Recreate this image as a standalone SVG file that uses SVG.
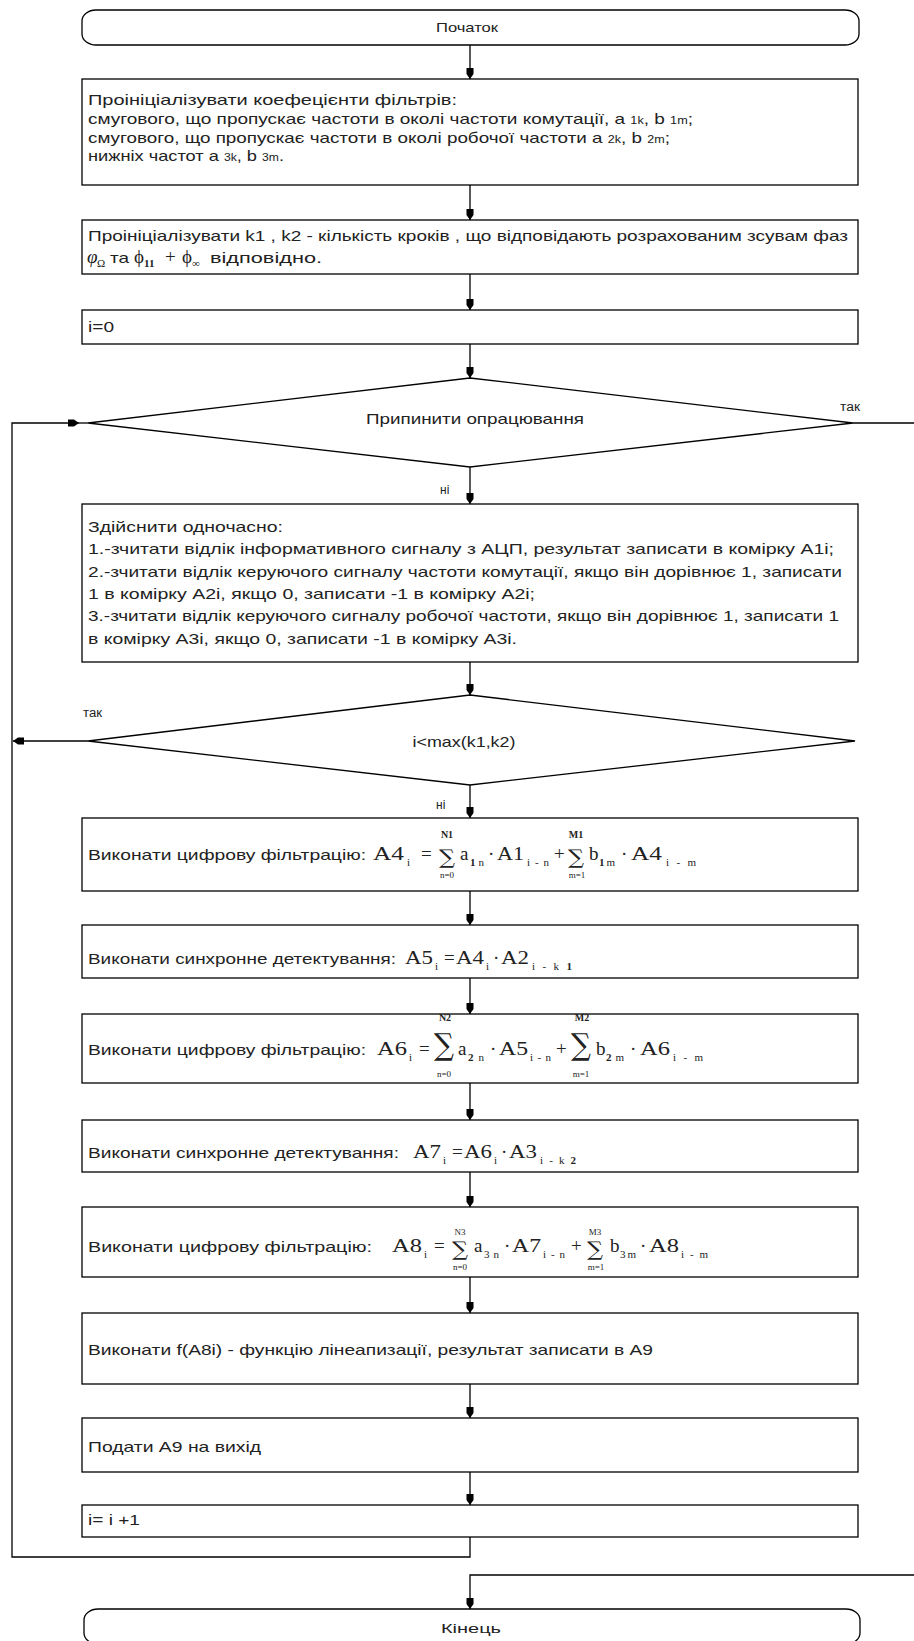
<svg xmlns="http://www.w3.org/2000/svg" width="914" height="1641" viewBox="0 0 914 1641">
<style>
.box{fill:#fff;stroke:#000;stroke-width:1.3}
.ln{fill:none;stroke:#000;stroke-width:1.3}
.t{font-family:"Liberation Sans",Arial,sans-serif;font-size:15px;fill:#222}
.tm{font-family:"Liberation Sans",Arial,sans-serif;font-size:13px;fill:#222;text-anchor:middle}
.lb{font-family:"Liberation Sans",Arial,sans-serif;font-size:12px;fill:#222}
.m{font-family:"Liberation Serif","DejaVu Serif",serif;font-size:19px;fill:#222}
.s{font-family:"Liberation Serif","DejaVu Serif",serif;font-size:11px;fill:#222}
.l{font-family:"Liberation Serif","DejaVu Serif",serif;font-size:9px;fill:#222;text-anchor:middle}
.lb2{font-weight:bold;font-size:10px}
.sg{font-family:"DejaVu Serif","Liberation Serif",serif;fill:#222}
.sm{font-size:10px}
</style>
<defs>
<marker id="ah" viewBox="0 0 11 8" refX="11" refY="4" markerWidth="11" markerHeight="8" orient="auto" markerUnits="userSpaceOnUse">
<path d="M0,0.5 L6,0.5 L11,4 L6,7.5 L0,7.5 Z" fill="#000"/>
</marker>
</defs>

<g id="connectors">
<path class="ln" d="M470,45 V79" marker-end="url(#ah)"/>
<path class="ln" d="M470,185 V220" marker-end="url(#ah)"/>
<path class="ln" d="M470,274 V310" marker-end="url(#ah)"/>
<path class="ln" d="M470,344 V378" marker-end="url(#ah)"/>
<path class="ln" d="M470,467 V504" marker-end="url(#ah)"/>
<path class="ln" d="M470,662 V695" marker-end="url(#ah)"/>
<path class="ln" d="M470,785 V818" marker-end="url(#ah)"/>
<path class="ln" d="M470,891 V925" marker-end="url(#ah)"/>
<path class="ln" d="M470,978 V1014" marker-end="url(#ah)"/>
<path class="ln" d="M470,1083 V1120" marker-end="url(#ah)"/>
<path class="ln" d="M470,1172 V1207" marker-end="url(#ah)"/>
<path class="ln" d="M470,1277 V1313" marker-end="url(#ah)"/>
<path class="ln" d="M470,1384 V1418" marker-end="url(#ah)"/>
<path class="ln" d="M470,1472 V1505" marker-end="url(#ah)"/>
<path class="ln" d="M470,1537 V1557 H12 V423 H79" marker-end="url(#ah)"/>
<path class="ln" d="M79,423 H88"/>
<path class="ln" d="M88,741 H13" marker-end="url(#ah)"/>
<path class="ln" d="M853,423 H918 V1575 H470 V1609" marker-end="url(#ah)"/>
<text class="lb" x="840" y="411" textLength="20" lengthAdjust="spacingAndGlyphs">так</text>
<text class="lb" x="440" y="494">ні</text>
<text class="lb" x="83" y="717" textLength="19" lengthAdjust="spacingAndGlyphs">так</text>
<text class="lb" x="436" y="809">ні</text>
</g>

<g id="start">
<rect class="box" x="82" y="10" width="777" height="35" rx="14" ry="11"/>
<text class="tm" x="467" y="32" textLength="62" lengthAdjust="spacingAndGlyphs">Початок</text>
</g>

<g id="init-coef">
<rect class="box" x="82" y="79" width="776" height="106"/>
<text class="t" x="88" y="105" textLength="369" lengthAdjust="spacingAndGlyphs">Проініціалізувати  коефецієнти фільтрів:</text>
<text class="t" x="88" y="124" textLength="605" lengthAdjust="spacingAndGlyphs">смугового, що пропускає частоти в околі частоти комутації, a <tspan class="sm">1k</tspan>, b <tspan class="sm">1m</tspan>;</text>
<text class="t" x="88" y="143" textLength="582" lengthAdjust="spacingAndGlyphs">смугового, що пропускає частоти в околі робочої частоти a <tspan class="sm">2k</tspan>, b <tspan class="sm">2m</tspan>;</text>
<text class="t" x="88" y="161" textLength="196" lengthAdjust="spacingAndGlyphs">нижніх частот a <tspan class="sm">3k</tspan>, b <tspan class="sm">3m</tspan>.</text>
</g>

<g id="init-k">
<rect class="box" x="82" y="220" width="776" height="54"/>
<text class="t" x="88" y="241" textLength="760" lengthAdjust="spacingAndGlyphs">Проініціалізувати k1 , k2 - кількість кроків , що відповідають розрахованим зсувам фаз</text>
<text class="m" x="87" y="263" font-style="italic">φ</text>
<text class="s" x="97" y="267" font-size="9">Ω</text>
<text class="t" x="110" y="263" textLength="19" lengthAdjust="spacingAndGlyphs">та</text>
<text class="m" x="134" y="263">ϕ</text>
<text class="s" x="144" y="267" font-weight="bold" font-size="12">11</text>
<text class="m" x="165" y="263">+</text>
<text class="m" x="182" y="263">ϕ</text>
<text class="s" x="192" y="267" font-size="8">∞</text>
<text class="t" x="210" y="263" textLength="112" lengthAdjust="spacingAndGlyphs">відповідно.</text>
</g>

<g id="init-i">
<rect class="box" x="82" y="310" width="776" height="34"/>
<text class="t" x="88" y="332" textLength="26" lengthAdjust="spacingAndGlyphs">i=0</text>
</g>

<g id="stop-decision">
<polygon class="box" points="470,378 853,423 470,467 88,423"/>
<text class="t" x="475" y="424" text-anchor="middle" textLength="218" lengthAdjust="spacingAndGlyphs">Припинити опрацювання</text>
</g>

<g id="read-signals">
<rect class="box" x="82" y="504" width="776" height="158"/>
<text class="t" x="88" y="532" textLength="195" lengthAdjust="spacingAndGlyphs">Здійснити одночасно:</text>
<text class="t" x="88" y="554" textLength="746" lengthAdjust="spacingAndGlyphs">1.-зчитати відлік інформативного сигналу з АЦП, результат записати в комірку A1i;</text>
<text class="t" x="88" y="577" textLength="754" lengthAdjust="spacingAndGlyphs">2.-зчитати відлік керуючого сигналу частоти комутації, якщо він дорівнює 1, записати</text>
<text class="t" x="88" y="599" textLength="447" lengthAdjust="spacingAndGlyphs">1 в комірку A2i, якщо 0, записати -1 в комірку A2i;</text>
<text class="t" x="88" y="621" textLength="751" lengthAdjust="spacingAndGlyphs">3.-зчитати відлік керуючого сигналу робочої частоти, якщо він дорівнює 1, записати 1</text>
<text class="t" x="88" y="644" textLength="429" lengthAdjust="spacingAndGlyphs">в комірку A3i, якщо 0, записати -1 в комірку A3i.</text>
</g>

<g id="max-decision">
<polygon class="box" points="470,695 855,741 470,785 88,741"/>
<text class="t" x="464" y="747" text-anchor="middle" textLength="103" lengthAdjust="spacingAndGlyphs">i&lt;max(k1,k2)</text>
</g>

<g id="filter1">
<rect class="box" x="82" y="818" width="776" height="73"/>
<text class="t" x="88" y="860" textLength="278" lengthAdjust="spacingAndGlyphs">Виконати цифрову  фільтрацію:</text>
<text class="m" x="373" y="860" textLength="31" lengthAdjust="spacingAndGlyphs">A4</text>
<text class="s" x="407" y="866">i</text>
<text class="m" x="421" y="860">=</text>
<text class="sg" x="439" y="864" font-size="20" textLength="16" lengthAdjust="spacingAndGlyphs">∑</text>
<text class="l lb2" x="447" y="838">N1</text>
<text class="l" x="447" y="878">n=0</text>
<text class="m" x="460" y="860">a</text>
<text class="s" x="470" y="866" textLength="14" lengthAdjust="spacing"><tspan font-weight="bold">1</tspan>n</text>
<text class="m" x="488" y="860">·</text>
<text class="m" x="497" y="860" textLength="27" lengthAdjust="spacingAndGlyphs">A1</text>
<text class="s" x="527" y="866" textLength="22" lengthAdjust="spacing">i-n</text>
<text class="m" x="554" y="860">+</text>
<text class="sg" x="568" y="864" font-size="20" textLength="16" lengthAdjust="spacingAndGlyphs">∑</text>
<text class="l lb2" x="576" y="838">M1</text>
<text class="l" x="577" y="878">m=1</text>
<text class="m" x="589" y="860">b</text>
<text class="s" x="599" y="866" textLength="16" lengthAdjust="spacing"><tspan font-weight="bold">1</tspan>m</text>
<text class="m" x="621" y="860">·</text>
<text class="m" x="631" y="860" textLength="31" lengthAdjust="spacingAndGlyphs">A4</text>
<text class="s" x="666" y="866" textLength="30" lengthAdjust="spacing">i-m</text>
</g>

<g id="detect1">
<rect class="box" x="82" y="925" width="776" height="53"/>
<text class="t" x="88" y="964" textLength="308" lengthAdjust="spacingAndGlyphs">Виконати синхронне детектування:</text>
<text class="m" x="405" y="964" textLength="28" lengthAdjust="spacingAndGlyphs">A5</text>
<text class="s" x="435" y="970">i</text>
<text class="m" x="444" y="964">=</text>
<text class="m" x="456" y="964" textLength="28" lengthAdjust="spacingAndGlyphs">A4</text>
<text class="s" x="486" y="970">i</text>
<text class="m" x="493" y="964">·</text>
<text class="m" x="501" y="964" textLength="28" lengthAdjust="spacingAndGlyphs">A2</text>
<text class="s" x="532" y="970" textLength="40" lengthAdjust="spacing">i-k<tspan font-weight="bold">1</tspan></text>
</g>

<g id="filter2">
<rect class="box" x="82" y="1014" width="776" height="69"/>
<text class="t" x="88" y="1055" textLength="278" lengthAdjust="spacingAndGlyphs">Виконати цифрову  фільтрацію:</text>
<text class="m" x="377" y="1055" textLength="30" lengthAdjust="spacingAndGlyphs">A6</text>
<text class="s" x="409" y="1061">i</text>
<text class="m" x="419" y="1055">=</text>
<text class="sg" x="434" y="1055" font-size="30" textLength="20" lengthAdjust="spacingAndGlyphs">∑</text>
<text class="l lb2" x="445" y="1021" font-size="11">N2</text>
<text class="l" x="444" y="1077">n=0</text>
<text class="m" x="458" y="1055">a</text>
<text class="s" x="468" y="1061" textLength="16" lengthAdjust="spacing"><tspan font-weight="bold">2</tspan>n</text>
<text class="m" x="490" y="1055">·</text>
<text class="m" x="499" y="1055" textLength="29" lengthAdjust="spacingAndGlyphs">A5</text>
<text class="s" x="530" y="1061" textLength="21" lengthAdjust="spacing">i-n</text>
<text class="m" x="556" y="1055">+</text>
<text class="sg" x="571" y="1055" font-size="30" textLength="20" lengthAdjust="spacingAndGlyphs">∑</text>
<text class="l lb2" x="582" y="1021" font-size="11">M2</text>
<text class="l" x="581" y="1077">m=1</text>
<text class="m" x="596" y="1055">b</text>
<text class="s" x="606" y="1061" textLength="18" lengthAdjust="spacing"><tspan font-weight="bold">2</tspan>m</text>
<text class="m" x="630" y="1055">·</text>
<text class="m" x="640" y="1055" textLength="30" lengthAdjust="spacingAndGlyphs">A6</text>
<text class="s" x="673" y="1061" textLength="30" lengthAdjust="spacing">i-m</text>
</g>

<g id="detect2">
<rect class="box" x="82" y="1120" width="776" height="52"/>
<text class="t" x="88" y="1158" textLength="311" lengthAdjust="spacingAndGlyphs">Виконати синхронне детектування:</text>
<text class="m" x="413" y="1158" textLength="28" lengthAdjust="spacingAndGlyphs">A7</text>
<text class="s" x="443" y="1164">i</text>
<text class="m" x="452" y="1158">=</text>
<text class="m" x="464" y="1158" textLength="28" lengthAdjust="spacingAndGlyphs">A6</text>
<text class="s" x="494" y="1164">i</text>
<text class="m" x="501" y="1158">·</text>
<text class="m" x="509" y="1158" textLength="28" lengthAdjust="spacingAndGlyphs">A3</text>
<text class="s" x="540" y="1164" textLength="36" lengthAdjust="spacing">i-k<tspan font-weight="bold">2</tspan></text>
</g>

<g id="filter3">
<rect class="box" x="82" y="1207" width="776" height="70"/>
<text class="t" x="88" y="1252" textLength="284" lengthAdjust="spacingAndGlyphs">Виконати цифрову  фільтрацію:</text>
<text class="m" x="392" y="1252" textLength="30" lengthAdjust="spacingAndGlyphs">A8</text>
<text class="s" x="424" y="1258">i</text>
<text class="m" x="434" y="1252">=</text>
<text class="sg" x="452" y="1256" font-size="20" textLength="16" lengthAdjust="spacingAndGlyphs">∑</text>
<text class="l" x="460" y="1235">N3</text>
<text class="l" x="460" y="1270">n=0</text>
<text class="m" x="474" y="1252">a</text>
<text class="s" x="484" y="1258" textLength="15" lengthAdjust="spacing">3n</text>
<text class="m" x="504" y="1252">·</text>
<text class="m" x="512" y="1252" textLength="29" lengthAdjust="spacingAndGlyphs">A7</text>
<text class="s" x="543" y="1258" textLength="22" lengthAdjust="spacing">i-n</text>
<text class="m" x="571" y="1252">+</text>
<text class="sg" x="587" y="1256" font-size="20" textLength="16" lengthAdjust="spacingAndGlyphs">∑</text>
<text class="l" x="595" y="1235">M3</text>
<text class="l" x="596" y="1270">m=1</text>
<text class="m" x="610" y="1252">b</text>
<text class="s" x="620" y="1258" textLength="16" lengthAdjust="spacing">3m</text>
<text class="m" x="640" y="1252">·</text>
<text class="m" x="649" y="1252" textLength="30" lengthAdjust="spacingAndGlyphs">A8</text>
<text class="s" x="681" y="1258" textLength="27" lengthAdjust="spacing">i-m</text>
</g>

<g id="linearize">
<rect class="box" x="82" y="1313" width="776" height="71"/>
<text class="t" x="88" y="1355" textLength="565" lengthAdjust="spacingAndGlyphs">Виконати  f(A8i) - функцію лінеапизації, результат записати в A9</text>
</g>

<g id="output">
<rect class="box" x="82" y="1418" width="776" height="54"/>
<text class="t" x="88" y="1452" textLength="173" lengthAdjust="spacingAndGlyphs">Подати A9 на вихід</text>
</g>

<g id="increment">
<rect class="box" x="82" y="1505" width="776" height="32"/>
<text class="t" x="88" y="1525" textLength="52" lengthAdjust="spacingAndGlyphs">i= i +1</text>
</g>

<g id="end">
<rect class="box" x="84" y="1609" width="776" height="35" rx="14" ry="11"/>
<text class="tm" x="471" y="1633" textLength="60" lengthAdjust="spacingAndGlyphs">Кінець</text>
</g>
</svg>
